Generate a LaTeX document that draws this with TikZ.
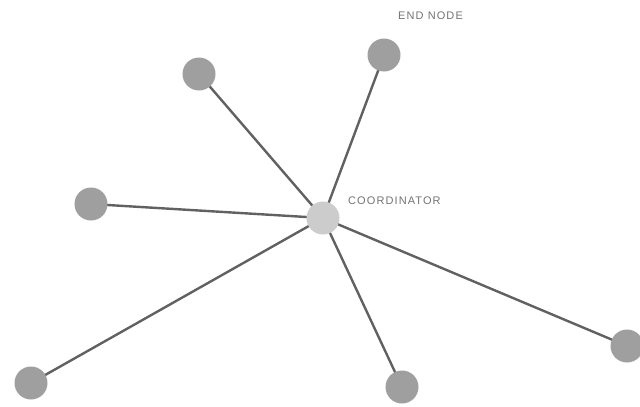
\documentclass[tikz,border=0pt]{standalone}
\usepackage{fontspec}
\setmainfont{Liberation Sans}
\usetikzlibrary{backgrounds}
\begin{document}
\begin{tikzpicture}[x=1pt,y=-1pt,
  endnode/.style={circle,fill=gray!75,minimum size=33pt,inner sep=0pt},
  coordnode/.style={circle,fill=gray!40,minimum size=33pt,inner sep=0pt},
  link/.style={draw=black!62,line width=2.4pt},
  lbl/.style={text=black!55,font=\fontsize{11}{13}\selectfont\addfontfeatures{LetterSpace=10},inner sep=0pt}]
\useasboundingbox (0,0) rectangle (640,407);
\node[coordnode] (c) at (323,218) {};
\node[endnode] (n1) at (384,55) {};
\node[endnode] (n2) at (199,74) {};
\node[endnode] (n3) at (91,204) {};
\node[endnode] (n4) at (31,383) {};
\node[endnode] (n5) at (402,387) {};
\node[endnode] (n6) at (627,346) {};
\begin{scope}[on background layer]
\foreach \n in {n1,n2,n3,n4,n5,n6} \draw[link] (c.center) -- (\n.center);
\end{scope}
\node[lbl,anchor=west] (lc) at (348,201) {COORDINATOR};
\node[lbl,anchor=west] (le) at (398,16) {END NODE};
\end{tikzpicture}
\end{document}
